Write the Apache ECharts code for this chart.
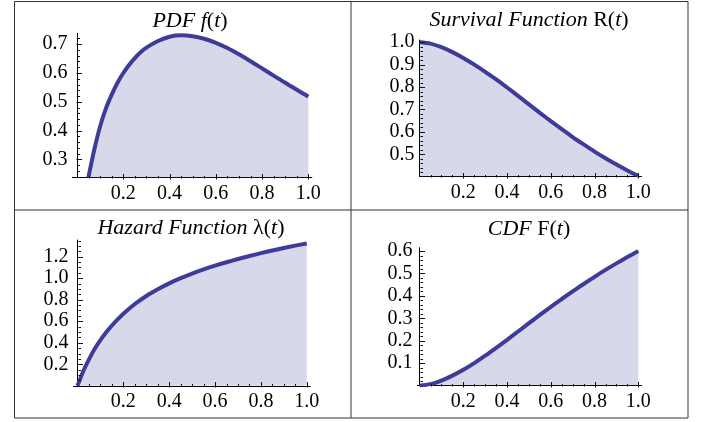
<!DOCTYPE html>
<html><head><meta charset="utf-8">
<script src="https://cdn.jsdelivr.net/npm/echarts@6/dist/echarts.min.js"></script>
<style>html,body{margin:0;padding:0;background:#fff}#c{width:704px;height:422px}</style>
</head><body><div id="c"></div>
<script>
// ---- data ----
const tValues = [0,0.05,0.1,0.15,0.2,0.25,0.3,0.35,0.4,0.45,0.5,0.55,0.6,0.65,0.7,0.75,0.8,0.85,0.9,0.95,1.0];
const pdfT = [0.049,0.075,0.1,0.125,0.15,0.175,0.2,0.225,0.25,0.275,0.3,0.35,0.4,0.45,0.5,0.55,0.6,0.65,0.7,0.75,0.8,0.85,0.9,0.95,1.0];
const pdfValues = [0.236,0.335,0.415,0.477,0.525,0.566,0.60,0.628,0.652,0.672,0.688,0.711,0.726,0.731,0.728,0.719,0.705,0.687,0.665,0.641,0.616,0.591,0.566,0.542,0.518];
const survivalValues = [1.0,0.994,0.978,0.956,0.930,0.900,0.868,0.834,0.798,0.761,0.723,0.685,0.648,0.612,0.577,0.544,0.512,0.482,0.454,0.428,0.404];
const hazardT = [0,0.025,0.05,0.075,0.1,0.125,0.15,0.175,0.2,0.25,0.3,0.35,0.4,0.45,0.5,0.55,0.6,0.65,0.7,0.75,0.8,0.85,0.9,0.95,1.0];
const hazardValues = [0,0.135,0.245,0.345,0.425,0.497,0.56,0.617,0.67,0.76,0.835,0.897,0.952,1.0,1.043,1.081,1.116,1.148,1.178,1.206,1.233,1.258,1.281,1.303,1.323];
const cdfValues = [0,0.006,0.022,0.044,0.070,0.100,0.133,0.168,0.204,0.241,0.278,0.315,0.351,0.386,0.420,0.453,0.485,0.516,0.545,0.573,0.600];
const xTickLabels = [0.2,0.4,0.6,0.8,1.0];
const pdfYTicks = [0.3,0.4,0.5,0.6,0.7];
const survivalYTicks = [0.5,0.6,0.7,0.8,0.9,1.0];
const hazardYTicks = [0.2,0.4,0.6,0.8,1.0,1.2];
const cdfYTicks = [0.1,0.2,0.3,0.4,0.5,0.6];

function range(a, b, s) { const r = []; for (let v = a; v <= b + 1e-9; v += s) r.push(+v.toFixed(4)); return r; }
const xMinor = range(0.05, 1.0, 0.05);

const LINE = '#3d3d99';
const FONT = 'Liberation Serif';
const panels = [
  { grid: {left:72.4, top:33.3, width:239.4, height:144.4}, x:[-0.02,1.015], y:[0.236,0.738], yt: pdfYTicks, ym: range(0.24,0.72,0.02), data: pdfT.map((t,i)=>[t,pdfValues[i]]) },
  { grid: {left:419.6, top:40, width:222, height:136.7}, x:[0,1.015], y:[0.4,1.01], yt: survivalYTicks, ym: range(0.42,1.0,0.02), data: tValues.map((t,i)=>[t,survivalValues[i]]) },
  { grid: {left:73.4, top:240, width:236.8, height:145.8}, x:[-0.018,1.015], y:[0,1.355], yt: hazardYTicks, ym: range(0.05,1.35,0.05), data: hazardT.map((t,i)=>[t,hazardValues[i]]) },
  { grid: {left:417.4, top:247.7, width:224.2, height:137.8}, x:[-0.01,1.015], y:[0,0.615], yt: cdfYTicks, ym: range(0.02,0.6,0.02), data: tValues.map((t,i)=>[t,cdfValues[i]]) }
];

const grids = [], xAxes = [], yAxes = [], series = [];
panels.forEach((p, gi) => {
  grids.push(p.grid);
  xAxes.push({gridIndex: gi, type:'value', min:p.x[0], max:p.x[1], splitLine:{show:false},
    axisLine:{show:true, onZero:false, lineStyle:{color:'#000', width:1}},
    axisTick:{show:false},
    axisLabel:{show:true, customValues: xTickLabels, formatter: v => v.toFixed(1), fontFamily:FONT, fontSize:20, color:'#000', margin:6}
  });
  yAxes.push({gridIndex: gi, type:'value', min:p.y[0], max:p.y[1], splitLine:{show:false},
    axisLine:{show:true, onZero:true, lineStyle:{color:'#000', width:1}},
    axisTick:{show:false},
    axisLabel:{show:true, customValues: p.yt, formatter: v => v.toFixed(1), fontFamily:FONT, fontSize:20, color:'#000', margin:5}
  });
  series.push({type:'line', xAxisIndex: gi, yAxisIndex: gi, data: p.data, showSymbol:false, smooth:0.3,
    clip:true, lineStyle:{color:LINE, width:4}, areaStyle:{color:LINE, opacity:0.2, origin:'start'}, z:3});
  // tick marks (major / minor) drawn through the axes' own scales
  const tickData = [];
  xTickLabels.forEach(v => tickData.push([v, p.y[0], 1, 0]));
  xMinor.filter(v => !xTickLabels.some(m => Math.abs(m - v) < 1e-6)).forEach(v => tickData.push([v, p.y[0], 0, 0]));
  p.yt.forEach(v => tickData.push([0, v, 1, 1]));
  p.ym.filter(v => !p.yt.some(m => Math.abs(m - v) < 1e-6)).forEach(v => tickData.push([0, v, 0, 1]));
  series.push({type:'custom', xAxisIndex: gi, yAxisIndex: gi, data: tickData, clip:false, z:5, silent:true,
    renderItem: (params, api) => {
      const major = api.value(2), dim = api.value(3);
      const len = major ? 4.5 : 2.5;
      const pt = api.coord([api.value(0), api.value(1)]);
      const x = Math.round(pt[0]) + 0.5, y = Math.round(pt[1]) + 0.5;
      const shape = dim === 0 ? {x1:x, y1:y + (major ? 1 : 0), x2:x, y2:y - len} : {x1:x - (major ? 1 : 0), y1:y, x2:x + len, y2:y};
      return {type:'line', shape: shape, style:{stroke:'#111', lineWidth:1}};
    }
  });
});

const rich = {
  i:{fontFamily:FONT, fontStyle:'italic', fontSize:22, fill:'#000'},
  n:{fontFamily:FONT, fontStyle:'normal', fontSize:22, fill:'#000'}
};
function title(x, y, text) {
  return {type:'text', x:x, y:y, style:{text:text, rich:rich, align:'center', verticalAlign:'middle', font:'italic 22px "Liberation Serif"', fill:'#000'}, z:10};
}
const graphic = [
  {type:'rect', shape:{x:14.5, y:1.5, width:673.5, height:416.5}, style:{fill:null, stroke:'#333', lineWidth:1}, z:10},
  {type:'line', shape:{x1:351, y1:1.5, x2:351, y2:418}, style:{stroke:'#333', lineWidth:1}, z:10},
  {type:'line', shape:{x1:14.5, y1:210, x2:688, y2:210}, style:{stroke:'#333', lineWidth:1}, z:10},
  title(190, 21, '{i|PDF }{i|f}{n|(}{i|t}{n|)}'),
  title(529, 20, '{i|Survival Function }{n|R(}{i|t}{n|)}'),
  title(191, 228, '{i|Hazard Function }{n|λ(}{i|t}{n|)}'),
  title(529, 229, '{i|CDF }{n|F(}{i|t}{n|)}')
];

const chart = echarts.init(document.getElementById('c'), null, {renderer:'canvas'});
chart.setOption({animation:false, grid:grids, xAxis:xAxes, yAxis:yAxes, series:series, graphic:graphic});
</script>
</body></html>
